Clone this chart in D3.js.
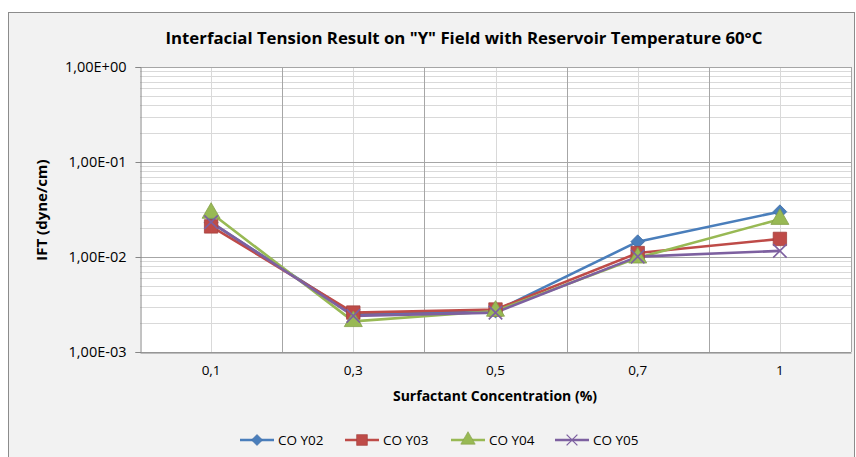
<!DOCTYPE html>
<html>
<head>
<meta charset="utf-8">
<script src="https://cdn.jsdelivr.net/npm/d3@7"></script>
<style>
  body { margin: 0; background: #fff; }
  text { font-family: "Open Sans", "Noto Sans", sans-serif; fill: #000; }
</style>
</head>
<body>
<div id="chart"><svg width="856" height="457"></svg></div>
<script>
const categories = ['0,1', '0,3', '0,5', '0,7', '1']
const seriesNames = ['CO Y02', 'CO Y03', 'CO Y04', 'CO Y05']
const coY02 = [0.023, 0.0025, 0.0027, 0.0145, 0.030]
const coY03 = [0.021, 0.0026, 0.0028, 0.011, 0.0155]
const coY04 = [0.029, 0.0021, 0.0027, 0.0098, 0.025]
const coY05 = [0.0233, 0.0024, 0.0026, 0.0101, 0.0116]
const yTicks = [0.001, 0.01, 0.1, 1]
const yTickLabels = ['1,00E-03', '1,00E-02', '1,00E-01', '1,00E+00']

const series = [
  { name: seriesNames[0], values: coY02, color: '#4a7ebb', marker: 'diamond' },
  { name: seriesNames[1], values: coY03, color: '#be4b48', marker: 'square' },
  { name: seriesNames[2], values: coY04, color: '#98b954', marker: 'triangle' },
  { name: seriesNames[3], values: coY05, color: '#7d60a0', marker: 'cross' }
]

const svg = d3.select('#chart svg')
const margin = { left: 140, top: 67, right: 851, bottom: 352 }

// outer chart frame
svg.append('rect')
  .attr('x', 8.5).attr('y', 12.5)
  .attr('width', 846).attr('height', 460)
  .attr('fill', '#f2f2f2')
  .attr('stroke', '#8c8c8c')
  .attr('stroke-width', 1)

const x = d3.scaleBand()
  .domain(categories)
  .range([margin.left, margin.right])
  .padding(0)
const y = d3.scaleLog()
  .domain([0.001, 1])
  .range([margin.bottom, margin.top])

// plot area
svg.append('rect')
  .attr('x', margin.left).attr('y', margin.top)
  .attr('width', margin.right - margin.left)
  .attr('height', margin.bottom - margin.top)
  .attr('fill', '#fff')

const g = svg.append('g')

// minor horizontal grid
const minor = []
for (let d = 0.001; d < 1; d *= 10) {
  for (let k = 2; k <= 9; k++) minor.push(d * k)
}
g.selectAll('.hminor').data(minor).enter().append('line')
  .attr('x1', margin.left).attr('x2', margin.right)
  .attr('y1', d => Math.round(y(d)) + 0.5).attr('y2', d => Math.round(y(d)) + 0.5)
  .attr('stroke', '#d9d9d9').attr('stroke-width', 1)

// vertical grid: centers (light) and boundaries (darker)
g.selectAll('.vminor').data(categories).enter().append('line')
  .attr('x1', d => Math.round(x(d) + x.bandwidth() / 2) + 0.5)
  .attr('x2', d => Math.round(x(d) + x.bandwidth() / 2) + 0.5)
  .attr('y1', margin.top).attr('y2', margin.bottom)
  .attr('stroke', '#d9d9d9')
g.selectAll('.vmajor').data(categories.slice(1).concat(['end'])).enter().append('line')
  .attr('x1', (d, i) => Math.round(margin.left + (i + 1) * x.step()) + 0.5)
  .attr('x2', (d, i) => Math.round(margin.left + (i + 1) * x.step()) + 0.5)
  .attr('y1', margin.top).attr('y2', margin.bottom)
  .attr('stroke', '#a6a6a6')

// major horizontal grid
g.selectAll('.hmajor').data(yTicks).enter().append('line')
  .attr('x1', margin.left).attr('x2', margin.right)
  .attr('y1', d => Math.round(y(d)) + 0.5).attr('y2', d => Math.round(y(d)) + 0.5)
  .attr('stroke', '#a6a6a6')

// y axis
const yAxis = svg.append('g')
  .attr('transform', 'translate(' + (margin.left + 0.5) + ',0)')
  .call(d3.axisLeft(y).tickValues(yTicks).tickSize(5).tickPadding(9)
    .tickFormat((d, i) => yTickLabels[i]))
yAxis.select('.domain').attr('stroke', '#868686')
yAxis.selectAll('.tick line').attr('stroke', '#868686')
yAxis.selectAll('.tick text').style('font-size', '14.5px')
  .style('font-family', '"Open Sans", sans-serif').attr('fill', '#000')

// x axis labels
const xAxis = svg.append('g')
  .attr('transform', 'translate(0,' + (margin.bottom + 0.5) + ')')
  .call(d3.axisBottom(x).tickSize(0).tickPadding(13))
xAxis.select('.domain').attr('stroke', '#868686')
xAxis.selectAll('.tick text').style('font-size', '13.5px')
  .style('font-family', '"Open Sans", sans-serif').attr('fill', '#000')

// lines
const line = d3.line()
  .x((d, i) => x(categories[i]) + x.bandwidth() / 2)
  .y(d => y(d))

const sym = {
  diamond: d3.symbol().type(d3.symbolDiamond2).size(120),
  square: d3.symbol().type(d3.symbolSquare).size(180),
  triangle: d3.symbol().type(d3.symbolTriangle).size(140),
  cross: d3.symbol().type(d3.symbolTimes).size(120)
}

series.forEach(s => {
  g.append('path')
    .datum(s.values)
    .attr('fill', 'none')
    .attr('stroke', s.color)
    .attr('stroke-width', 2.6)
    .attr('stroke-linejoin', 'round')
    .attr('d', line)
})

function drawMarker(sel, s) {
  if (s.marker === 'cross') {
    sel.attr('d', sym.cross()).attr('fill', 'none')
      .attr('stroke', s.color).attr('stroke-width', 1.6)
  } else {
    sel.attr('d', sym[s.marker]()).attr('fill', s.color)
      .attr('stroke', d3.color(s.color).darker(0.4)).attr('stroke-width', 0.8)
  }
}

series.forEach(s => {
  g.selectAll(null).data(s.values).enter().append('path')
    .attr('transform', (d, i) => 'translate(' + (x(categories[i]) + x.bandwidth() / 2) + ',' + y(d) + ')')
    .call(drawMarker, s)
})

// titles
svg.append('text')
  .attr('x', 464).attr('y', 44)
  .attr('text-anchor', 'middle')
  .style('font-size', '16.8px').attr('font-weight', 700)
  .text('Interfacial Tension Result on "Y" Field with Reservoir Temperature 60°C')

svg.append('text')
  .attr('x', 495).attr('y', 401)
  .attr('text-anchor', 'middle')
  .style('font-size', '14px').attr('font-weight', 700)
  .text('Surfactant Concentration (%)')

svg.append('text')
  .attr('transform', 'translate(47,' + 210 + ') rotate(-90)')
  .attr('text-anchor', 'middle')
  .style('font-size', '15px').attr('font-weight', 700)
  .text('IFT (dyne/cm)')

// legend
const legendX = [240, 345, 451, 555]
const legend = svg.append('g')
series.forEach((s, i) => {
  const lg = legend.append('g').attr('transform', 'translate(' + legendX[i] + ',440)')
  lg.append('line').attr('x1', 0).attr('x2', 34).attr('y1', 0).attr('y2', 0)
    .attr('stroke', s.color).attr('stroke-width', 2.6)
  lg.append('path').attr('transform', 'translate(17,0) scale(0.8)').call(drawMarker, s)
  lg.append('text').attr('x', 38).attr('y', 5)
    .style('font-size', '13.5px')
    .text(s.name)
})
</script>
</body>
</html>
